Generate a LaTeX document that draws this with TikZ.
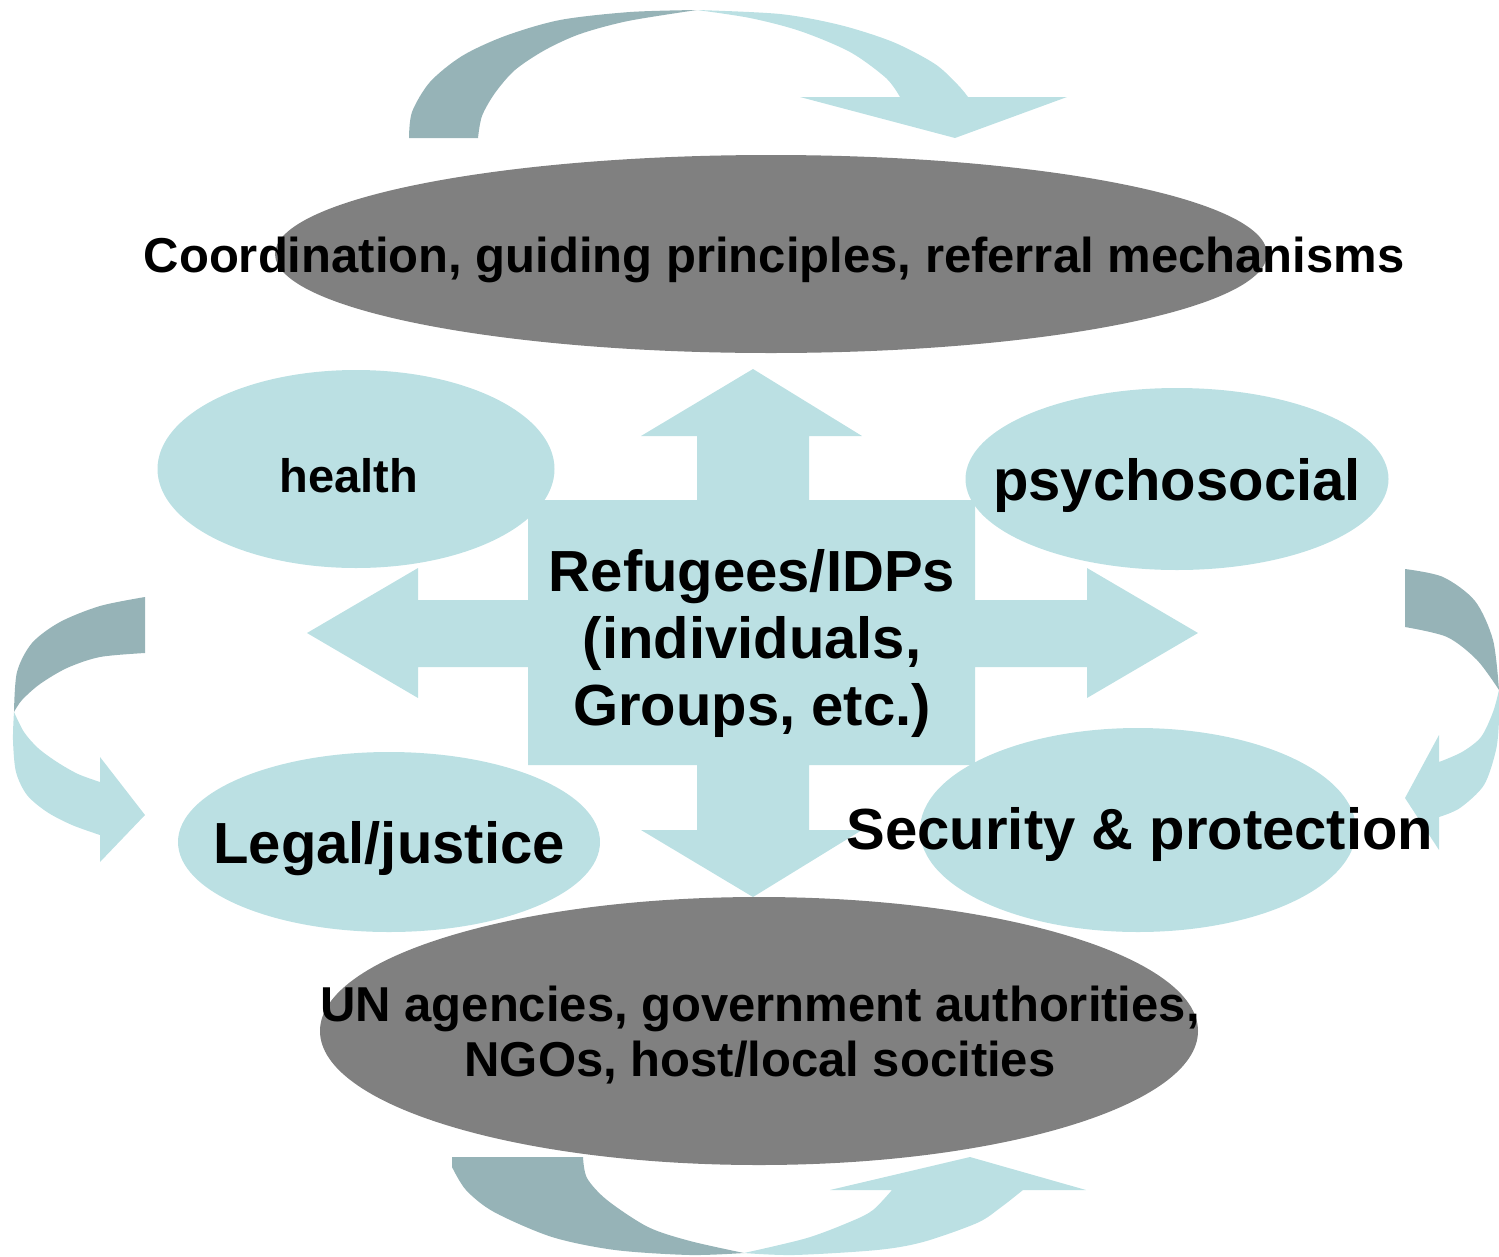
\documentclass[tikz,border=0pt]{standalone}
\usepackage{fontspec}
\setmainfont{Liberation Sans}
\usetikzlibrary{shapes.geometric}
\definecolor{lightc}{RGB}{187,224,227}
\definecolor{darkc}{RGB}{150,179,183}
\definecolor{greyc}{RGB}{128,128,128}
\tikzset{
  oval/.style={ellipse, inner sep=0pt, draw=none},
  greyoval/.style={oval, fill=greyc},
  lightoval/.style={oval, fill=lightc},
  lbl/.style={inner sep=0pt, text=black, font=\bfseries, align=center},
}
\begin{document}
\begin{tikzpicture}[x=1pt,y=-1pt]
\useasboundingbox (0,0) rectangle (1499,1256);
% top curved arrow
\fill[darkc] plot[smooth] coordinates {(409,138) (412,112) (430,82) (462,56) (505,36) (560,20) (630,12) (697,10)}
  -- plot[smooth] coordinates {(697,10) (628,21) (580,34) (545,50) (515,70) (495,93) (482,116) (478,138)} -- cycle;
\fill[lightc] plot[smooth] coordinates {(697,10) (780,14) (840,25) (893,42) (935,64) (958,85) (968,97)}
  -- (1067,97) -- (955,138) -- (800,97)
  -- plot[smooth] coordinates {(900,97) (886,78) (850,52) (800,31) (750,18) (697,10)} -- cycle;
% left curved arrow
\fill[darkc] plot[smooth] coordinates {(145,597) (100,606) (60,622) (32,643) (17,672) (14,712)}
  -- plot[smooth] coordinates {(14,712) (22,700) (40,684) (67,668) (100,657) (145,653)} -- cycle;
\fill[lightc] plot[smooth] coordinates {(14,712) (13,740) (16,772) (27,795) (47,812) (72,825) (100,835)}
  -- (100,862) -- (145,815) -- (100,757)
  -- plot[smooth] coordinates {(100,782) (78,774) (57,762) (38,748) (24,732) (14,712)} -- cycle;
% right curved arrow
\fill[darkc] plot[smooth] coordinates {(1405,569) (1443,577) (1475,601) (1493,640) (1499,690)}
  -- plot[smooth] coordinates {(1499,690) (1477,660) (1447,637) (1405,627)} -- cycle;
\fill[lightc] plot[smooth] coordinates {(1499,690) (1499,720) (1496,750) (1484,785) (1460,808) (1439,817)}
  -- (1439,850) -- (1405,798) -- (1439,735)
  -- plot[smooth] coordinates {(1439,762) (1462,752) (1481,737) (1493,712) (1499,690)} -- cycle;
% bottom curved arrow
\fill[darkc] (452,1157) -- plot[smooth] coordinates {(583,1157) (587,1178) (607,1200) (648,1227) (690,1241) (744,1253)}
  -- plot[smooth] coordinates {(744,1253) (690,1255) (615,1250) (552,1237) (494,1212) (466,1190) (452,1167)} -- cycle;
\fill[lightc] plot[smooth] coordinates {(744,1253) (794,1255) (877,1250) (923,1242) (977,1223) (1000,1208) (1023,1190)}
  -- (1086,1190) -- (970,1157) -- (830,1190)
  -- plot[smooth] coordinates {(892,1190) (873,1210) (852,1221) (807,1238) (744,1253)} -- cycle;
% central cross
\fill[lightc] (528,500) -- (697,500) -- (697,436) -- (641,436) -- (753,369) -- (862,436) -- (809,436) -- (809,500)
  -- (975,500) -- (975,600) -- (1087,600) -- (1087,568) -- (1198,633) -- (1087,698) -- (1087,667) -- (975,667)
  -- (975,765) -- (809,765) -- (809,830) -- (862,830) -- (753,897) -- (641,830) -- (697,830) -- (697,765)
  -- (528,765) -- (528,667) -- (418,667) -- (418,698) -- (307,633) -- (418,568) -- (418,600) -- (528,600) -- cycle;
% ellipses
\node[greyoval, minimum width=992pt, minimum height=198pt] (coordE) at (771,254) {};
\node[greyoval, minimum width=878pt, minimum height=268pt] (actorsE) at (759,1031) {};
\node[lightoval, minimum width=397pt, minimum height=198pt] (healthE) at (356,469) {};
\node[lightoval, minimum width=423pt, minimum height=182pt] (psychE) at (1177,479) {};
\node[lightoval, minimum width=422pt, minimum height=180pt] (legalE) at (389,842) {};
\node[lightoval, minimum width=436pt, minimum height=204pt] (secE) at (1138,830) {};
% texts
\node[lbl, anchor=base, font=\fontsize{49}{55}\selectfont\bfseries] (coordT) at (774,272) {Coordination, guiding principles, referral mechanisms};
\node[lbl, anchor=base, font=\fontsize{47}{55}\selectfont\bfseries] (healthT) at (349,492) {health};
\node[lbl, anchor=base, font=\fontsize{58}{67}\selectfont\bfseries] (psychT) at (1177,500) {psychosocial};
\node[lbl, anchor=center, font=\fontsize{58}{67}\selectfont\bfseries] (refT) at (752,643) {Refugees/IDPs\\(individuals,\\Groups, etc.)};
\node[lbl, anchor=base, font=\fontsize{58}{67}\selectfont\bfseries] (legalT) at (389,863) {Legal/justice};
\node[lbl, anchor=base, font=\fontsize{58}{67}\selectfont\bfseries] (secT) at (1140,849) {Security \& protection};
\node[lbl, anchor=center, font=\fontsize{49}{55}\selectfont\bfseries] (actorsT) at (760,1035) {UN agencies, government authorities,\\NGOs, host/local socities};
\end{tikzpicture}
\end{document}
